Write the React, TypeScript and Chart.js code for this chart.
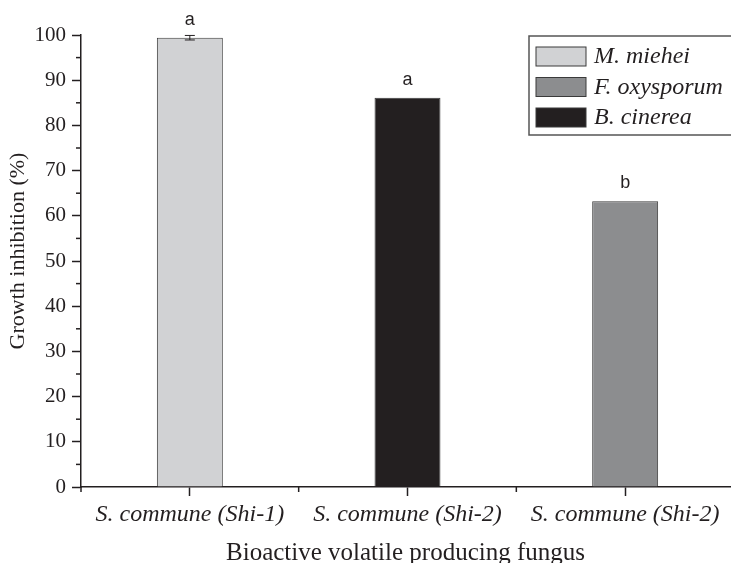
import { useEffect, useRef } from 'react';
import { Chart, registerables } from 'chart.js';

Chart.register(...registerables);

const categories = ['S. commune (Shi-1)', 'S. commune (Shi-2)', 'S. commune (Shi-2)'];
const seriesNames = ['M. miehei', 'F. oxysporum', 'B. cinerea'];
const mieheiValues = [99.4, null, null];
const oxysporumValues = [null, null, 63.2];
const cinereaValues = [null, 86.1, null];
const mieheiErrors = [0.5, 0, 0];
const letterLabels = ['a', 'a', 'b'];
const yMin = 0;
const yMax = 100;
const yMajorStep = 10;
const yMinorStep = 5;
const xTitle = 'Bioactive volatile producing fungus';
const yTitle = 'Growth inhibition (%)';

const INK = '#231f20';
const SERIF = "'Liberation Serif', 'Times New Roman', serif";
const SANS = "'Liberation Sans', Arial, sans-serif";

const seriesColors = ['#d1d2d4', '#8c8d8f', '#231f20'];
const seriesData = [mieheiValues, oxysporumValues, cinereaValues];
const seriesErrors = [mieheiErrors, [0, 0, 0], [0, 0, 0]];

const CANVAS_W = 734;
const CANVAS_H = 563;

const decorations = {
  id: 'decorations',
  afterDatasetsDraw(chart: any) {
    const { ctx, chartArea } = chart;
    const x = chart.scales.x;
    const y = chart.scales.y;
    ctx.save();

    // error bars
    ctx.strokeStyle = INK;
    ctx.lineWidth = 1;
    seriesData.forEach((vals, d) => {
      vals.forEach((v, i) => {
        const e = seriesErrors[d][i];
        if (v == null || !e) return;
        const cx = x.getPixelForValue(i);
        const yt = y.getPixelForValue(v + e);
        const yb = y.getPixelForValue(v - e);
        ctx.beginPath();
        ctx.moveTo(cx, yt);
        ctx.lineTo(cx, yb);
        ctx.moveTo(cx - 5, yt);
        ctx.lineTo(cx + 5, yt);
        ctx.moveTo(cx - 5, yb);
        ctx.lineTo(cx + 5, yb);
        ctx.stroke();
      });
    });

    // significance letters
    ctx.fillStyle = INK;
    ctx.font = `18px ${SANS}`;
    ctx.textAlign = 'center';
    ctx.textBaseline = 'alphabetic';
    categories.forEach((_, i) => {
      let v: number | null = null;
      seriesData.forEach((vals) => {
        if (vals[i] != null) v = vals[i] as number;
      });
      if (v == null) return;
      ctx.fillText(letterLabels[i], x.getPixelForValue(i), y.getPixelForValue(v) - 13);
    });

    // minor ticks on y axis
    ctx.strokeStyle = INK;
    ctx.lineWidth = 1.5;
    for (let v = yMin + yMinorStep; v < yMax; v += yMajorStep) {
      const py = y.getPixelForValue(v);
      ctx.beginPath();
      ctx.moveTo(chartArea.left, py);
      ctx.lineTo(chartArea.left - 5, py);
      ctx.stroke();
    }

    // minor ticks on x axis between categories
    for (let i = 0; i <= categories.length; i++) {
      const px = x.getPixelForValue(i - 0.5);
      ctx.beginPath();
      ctx.moveTo(px, chartArea.bottom);
      ctx.lineTo(px, chartArea.bottom + 5);
      ctx.stroke();
    }

    // axis titles
    ctx.fillStyle = INK;
    ctx.font = `25px ${SERIF}`;
    ctx.textAlign = 'center';
    ctx.textBaseline = 'alphabetic';
    ctx.fillText(xTitle, (chartArea.left + chartArea.right) / 2 - 2, chartArea.bottom + 73);

    ctx.save();
    ctx.translate(24, (chartArea.top + chartArea.bottom) / 2 - 10);
    ctx.rotate(-Math.PI / 2);
    ctx.font = `22px ${SERIF}`;
    ctx.fillText(yTitle, 0, 0);
    ctx.restore();

    // legend
    const lx = chartArea.left + 448;
    const ly = chartArea.top + 1;
    ctx.strokeStyle = '#555';
    ctx.lineWidth = 1.5;
    ctx.strokeRect(lx, ly, 260, 99);
    ctx.font = `italic 24px ${SERIF}`;
    ctx.textAlign = 'left';
    seriesNames.forEach((name, i) => {
      const sy = ly + 11 + i * 30.5;
      ctx.fillStyle = seriesColors[i];
      ctx.fillRect(lx + 7, sy, 50, 19);
      ctx.strokeStyle = '#3a3a3a';
      ctx.lineWidth = 1;
      ctx.strokeRect(lx + 7, sy, 50, 19);
      ctx.fillStyle = INK;
      ctx.fillText(name, lx + 65, sy + 16);
    });

    ctx.restore();
  },
};

export default function App() {
  const canvasRef = useRef<HTMLCanvasElement>(null);

  useEffect(() => {
    const canvas = canvasRef.current;
    if (!canvas) return;
    const chart = new Chart(canvas, {
      type: 'bar',
      data: {
        labels: categories,
        datasets: seriesNames.map((name, i) => ({
          label: name,
          data: seriesData[i],
          backgroundColor: seriesColors[i],
          borderColor: '#3a3a3a',
          borderWidth: 1,
          borderSkipped: 'bottom',
          grouped: false,
          barPercentage: 0.303,
          categoryPercentage: 1,
        })),
      },
      options: {
        animation: false,
        responsive: false,
        maintainAspectRatio: false,
        layout: { padding: { top: 35, right: 0, left: 0, bottom: 0 } },
        plugins: {
          legend: { display: false },
          tooltip: { enabled: false },
        },
        scales: {
          x: {
            offset: true,
            afterFit: (scale: any) => {
              scale.height = 76;
            },
            grid: {
              offset: false,
              drawOnChartArea: false,
              tickLength: 9,
              tickWidth: 1.5,
              tickColor: INK,
            },
            border: { color: INK, width: 1.5 },
            ticks: {
              color: INK,
              padding: 4,
              maxRotation: 0,
              autoSkip: false,
              font: { family: SERIF, size: 24, style: 'italic' },
            },
          },
          y: {
            min: yMin,
            max: yMax,
            afterFit: (scale: any) => {
              scale.width = 81;
            },
            grid: {
              drawOnChartArea: false,
              tickLength: 9,
              tickWidth: 1.5,
              tickColor: INK,
            },
            border: { color: INK, width: 1.5 },
            ticks: {
              stepSize: yMajorStep,
              color: INK,
              padding: 6,
              font: { family: SERIF, size: 21 },
            },
          },
        },
      },
      plugins: [decorations],
    });
    return () => chart.destroy();
  }, []);

  return (
    <div
      style={{
        position: 'fixed',
        left: 0,
        top: 0,
        width: 731,
        height: 563,
        overflow: 'hidden',
        background: '#fff',
      }}
    >
      <canvas ref={canvasRef} width={CANVAS_W} height={CANVAS_H} style={{ display: 'block' }} />
    </div>
  );
}
